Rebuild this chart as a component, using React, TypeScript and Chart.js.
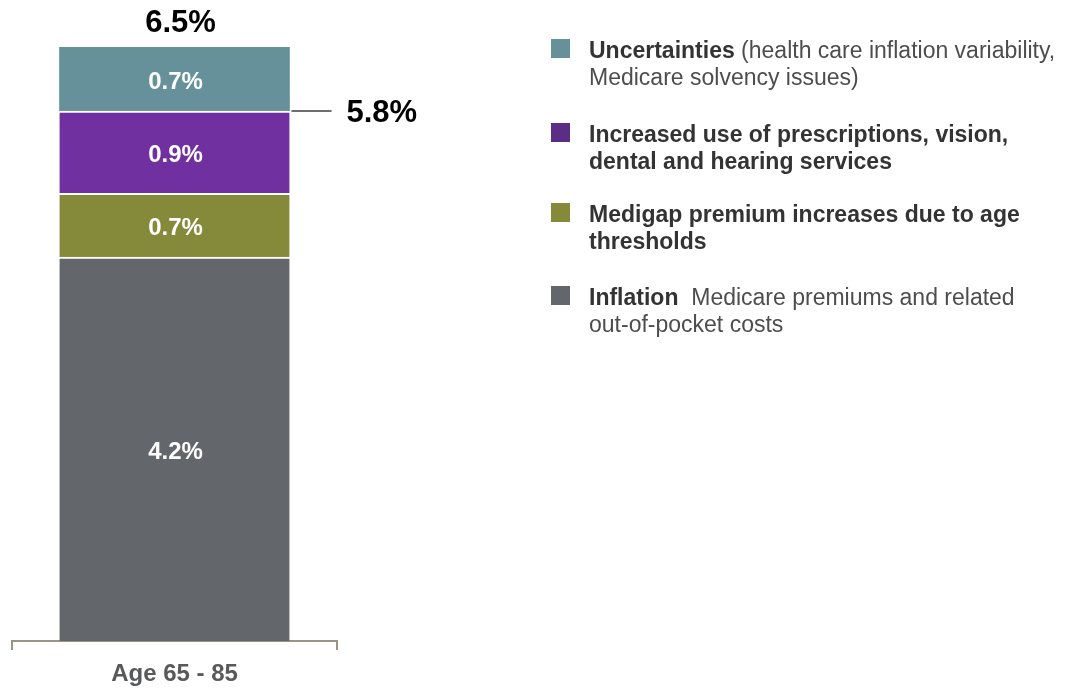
import React, { useEffect, useRef } from "react";
import { Chart, registerables } from "chart.js";

Chart.register(...registerables);

const categories = ["Age 65 - 85"];
const inflation = [4.2];
const medigap = [0.7];
const increasedUse = [0.9];
const uncertainties = [0.7];
const totalLabels = ["6.5%"];
const subtotalValue = [5.8];
const subtotalLabels = ["5.8%"];

const seriesNames = ["Inflation", "Medigap", "Increased use", "Uncertainties"];
const barColors = ["#63666A", "#858A3A", "#7030A0", "#66919A"];

const FONT = "'Liberation Sans', Arial, sans-serif";

const labelPlugin = {
  id: "customLabels",
  afterDatasetsDraw(chart: any) {
    const ctx = chart.ctx;
    ctx.save();
    ctx.textAlign = "center";
    ctx.textBaseline = "middle";
    chart.data.datasets.forEach((ds: any, di: number) => {
      const meta = chart.getDatasetMeta(di);
      meta.data.forEach((el: any, i: number) => {
        const v = ds.data[i];
        ctx.fillStyle = "#FFFFFF";
        ctx.font = `bold 24px ${FONT}`;
        ctx.fillText(v.toFixed(1) + "%", el.x + 1, (el.y + el.base) / 2 + 3);
      });
    });
    const lastMeta = chart.getDatasetMeta(chart.data.datasets.length - 1);
    const yScale = chart.scales.y;
    lastMeta.data.forEach((el: any, i: number) => {
      ctx.fillStyle = "#000000";
      ctx.font = `bold 31px ${FONT}`;
      ctx.fillText(totalLabels[i], el.x + 6, el.y - 24);
      const ys = yScale.getPixelForValue(subtotalValue[i]);
      const right = el.x + el.width / 2;
      ctx.strokeStyle = "#6D6E71";
      ctx.lineWidth = 2;
      ctx.beginPath();
      ctx.moveTo(right + 2, ys);
      ctx.lineTo(right + 42, ys);
      ctx.stroke();
      ctx.textAlign = "left";
      ctx.fillText(subtotalLabels[i], right + 57, ys + 2);
      ctx.textAlign = "center";
    });
    ctx.restore();
  },
};

const legendItems = [
  { color: "#66919A", bold: "Uncertainties", rest: " (health care inflation variability,", line2: "Medicare solvency issues)", line2Bold: false, top: 37 },
  { color: "#5C2D87", bold: "Increased use of prescriptions, vision,", rest: "", line2: "dental and hearing services", line2Bold: true, top: 121 },
  { color: "#858A3A", bold: "Medigap premium increases due to age", rest: "", line2: "thresholds", line2Bold: true, top: 201 },
  { color: "#63666A", bold: "Inflation", rest: "  Medicare premiums and related", line2: "out-of-pocket costs", line2Bold: false, top: 284 },
];

export default function App() {
  const ref = useRef<HTMLCanvasElement>(null);
  useEffect(() => {
    if (!ref.current) return;
    const values = [inflation, medigap, increasedUse, uncertainties];
    const chart = new Chart(ref.current, {
      type: "bar",
      data: {
        labels: categories,
        datasets: values.map((d, i) => ({
          label: seriesNames[i],
          data: d,
          backgroundColor: barColors[i],
          borderColor: "#FFFFFF",
          borderWidth: { top: i === values.length - 1 ? 0 : 2, bottom: 0, left: 0, right: 0 },
          borderSkipped: false,
          barThickness: 230,
        })),
      },
      options: {
        animation: false,
        responsive: true,
        maintainAspectRatio: false,
        layout: { padding: { top: 47, left: 12, right: 741, bottom: 0 } },
        plugins: { legend: { display: false }, tooltip: { enabled: false } },
        scales: {
          y: { display: false, stacked: true, min: 0, max: 6.5 },
          x: {
            stacked: true,
            grid: { offset: true, drawOnChartArea: false, tickLength: 9, color: "#9B9385", lineWidth: 2 },
            border: { display: true, color: "#9B9385", width: 2 },
            ticks: { font: { family: FONT, size: 24, weight: "bold" }, color: "#58595B", padding: 10 },
            afterFit: (scale: any) => {
              scale.height = 47;
            },
          },
        },
      },
      plugins: [labelPlugin],
    });
    return () => chart.destroy();
  }, []);

  return (
    <div style={{ position: "absolute", left: 0, top: 0, width: 1078, height: 688, background: "#fff", overflow: "hidden" }}>
      <div style={{ position: "absolute", left: 0, top: 0, width: 1078, height: 688 }}>
        <canvas ref={ref} />
      </div>
      {legendItems.map((it, i) => (
        <div key={i} style={{ position: "absolute", left: 551, top: it.top, fontFamily: FONT, fontSize: 23, lineHeight: "27px", whiteSpace: "nowrap" }}>
          <div style={{ position: "absolute", left: 0, top: 2, width: 19, height: 19, background: it.color }} />
          <div style={{ position: "absolute", left: 38, top: 0 }}>
            <div>
              <span style={{ fontWeight: "bold", color: "#333333" }}>{it.bold}</span>
              <span style={{ color: "#4D4D4D", whiteSpace: "pre" }}>{it.rest}</span>
            </div>
            <div style={{ fontWeight: it.line2Bold ? "bold" : "normal", color: it.line2Bold ? "#333333" : "#4D4D4D" }}>{it.line2}</div>
          </div>
        </div>
      ))}
    </div>
  );
}
